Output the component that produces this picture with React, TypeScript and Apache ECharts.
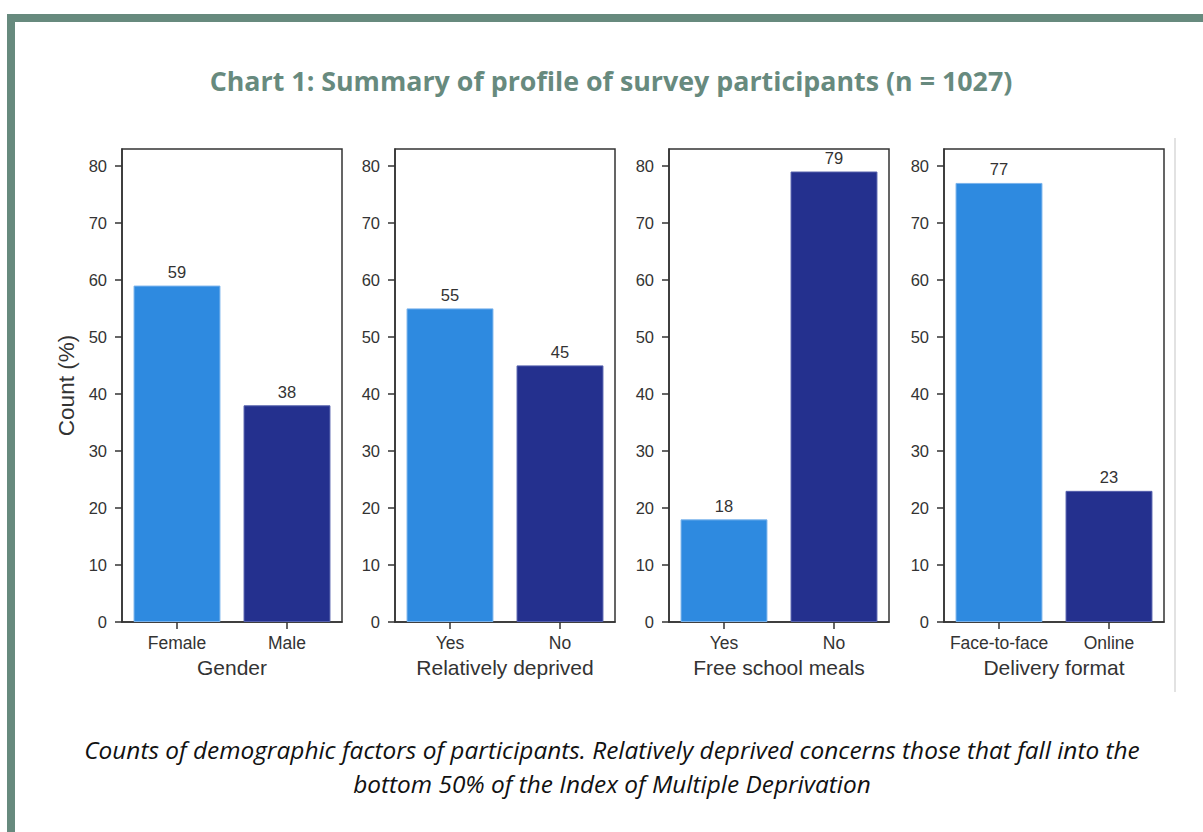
import React, { useEffect, useRef } from "react";
import * as echarts from "echarts";

// ---- data ----
const panelTitles = ["Gender", "Relatively deprived", "Free school meals", "Delivery format"];
const genderCategories = ["Female", "Male"];
const genderValues = [59, 38];
const deprivedCategories = ["Yes", "No"];
const deprivedValues = [55, 45];
const mealsCategories = ["Yes", "No"];
const mealsValues = [18, 79];
const deliveryCategories = ["Face-to-face", "Online"];
const deliveryValues = [77, 23];
const yTickValues = [0, 10, 20, 30, 40, 50, 60, 70, 80];
const yAxisTitle = "Count (%)";
const chartTitle = "Chart 1: Summary of profile of survey participants (n = 1027)";
const captionText =
  "Counts of demographic factors of participants. Relatively deprived concerns those that fall into the\nbottom 50% of the Index of Multiple Deprivation";

const barColors = ["#2e8ae0", "#24308e"];
const barEdges = ["#7ab3ec", "#5560ad"];

const panelCategories = [genderCategories, deprivedCategories, mealsCategories, deliveryCategories];
const panelValues = [genderValues, deprivedValues, mealsValues, deliveryValues];

const panelLefts = [122, 395, 669, 944];
const panelWidth = 220;
const gridTop = 149;
const gridHeight = 473;

const axisColor = "#333333";
const textColor = "#333333";
const accent = "#678a7e";
const sans = "Liberation Sans, Arial, sans-serif";

export default function App() {
  const ref = useRef<HTMLDivElement>(null);

  useEffect(() => {
    if (!ref.current) return;
    const chart = echarts.init(ref.current, undefined, { renderer: "svg" });

    const allValues = panelValues.flat();
    const yMax = Math.max(...allValues) * 1.05;

    const grids = panelLefts.map((left) => ({
      left,
      top: gridTop,
      width: panelWidth,
      height: gridHeight,
      show: true,
      borderColor: axisColor,
      borderWidth: 1.5,
      backgroundColor: "transparent",
    }));

    const xAxes = panelCategories.map((cats, i) => ({
      type: "category",
      gridIndex: i,
      data: cats,
      name: panelTitles[i],
      nameLocation: "middle",
      nameGap: 35,
      nameTextStyle: { fontSize: 21, color: textColor, fontFamily: sans },
      axisLine: { show: true, lineStyle: { color: axisColor, width: 1.5 } },
      axisTick: { show: true, alignWithLabel: true, length: 7, lineStyle: { color: axisColor, width: 1.5 } },
      axisLabel: { interval: 0, fontSize: 17.5, color: textColor, margin: 12, fontFamily: sans },
      splitLine: { show: false },
    }));

    const yAxes = panelCategories.map((_, i) => ({
      type: "value",
      gridIndex: i,
      min: 0,
      max: yMax,
      interval: 10,
      name: i === 0 ? yAxisTitle : "",
      nameLocation: "middle",
      nameGap: 44,
      nameRotate: 90,
      nameTextStyle: { fontSize: 22.5, color: textColor, fontFamily: sans },
      axisLine: { show: true, lineStyle: { color: axisColor, width: 1.5 } },
      axisTick: {
        show: true,
        length: 7,
        customValues: yTickValues,
        lineStyle: { color: axisColor, width: 1.5 },
      },
      axisLabel: {
        fontSize: 16.5,
        color: textColor,
        margin: 15,
        customValues: yTickValues,
        fontFamily: sans,
      },
      splitLine: { show: false },
    }));

    const series = panelValues.map((vals, i) => ({
      type: "bar",
      xAxisIndex: i,
      yAxisIndex: i,
      barWidth: "79%",
      data: vals.map((v, j) => ({
        value: v,
        itemStyle: { color: barColors[j], borderColor: barEdges[j], borderWidth: 1 },
      })),
      label: {
        show: true,
        position: "top",
        distance: 5,
        fontSize: 16.5,
        color: textColor,
        fontFamily: sans,
      },
    }));

    chart.setOption({
      animation: false,
      backgroundColor: "#ffffff",
      grid: grids,
      xAxis: xAxes,
      yAxis: yAxes,
      series,
      graphic: [
        { type: "rect", shape: { x: 7, y: 14, width: 1196, height: 8 }, style: { fill: accent } },
        { type: "rect", shape: { x: 7, y: 14, width: 8, height: 818 }, style: { fill: accent } },
        {
          type: "line",
          shape: { x1: 1175, y1: 138, x2: 1175, y2: 692 },
          style: { stroke: "#e2e2e2", lineWidth: 2 },
        },
        {
          type: "text",
          x: 611,
          y: 80,
          style: {
            text: chartTitle,
            fill: accent,
            font: "bold 26.8px 'Open Sans', Lato, sans-serif",
            textAlign: "center",
            textVerticalAlign: "middle",
          },
        },
        {
          type: "text",
          x: 612,
          y: 766,
          style: {
            text: captionText,
            fill: "#111111",
            font: "italic 24.4px 'Open Sans', Lato, sans-serif",
            lineHeight: 34,
            textAlign: "center",
            textVerticalAlign: "middle",
          },
        },
      ],
    });

    return () => chart.dispose();
  }, []);

  return (
    <div
      ref={ref}
      style={{ position: "absolute", left: 0, top: 0, width: 1203, height: 832, background: "#fff" }}
    />
  );
}
